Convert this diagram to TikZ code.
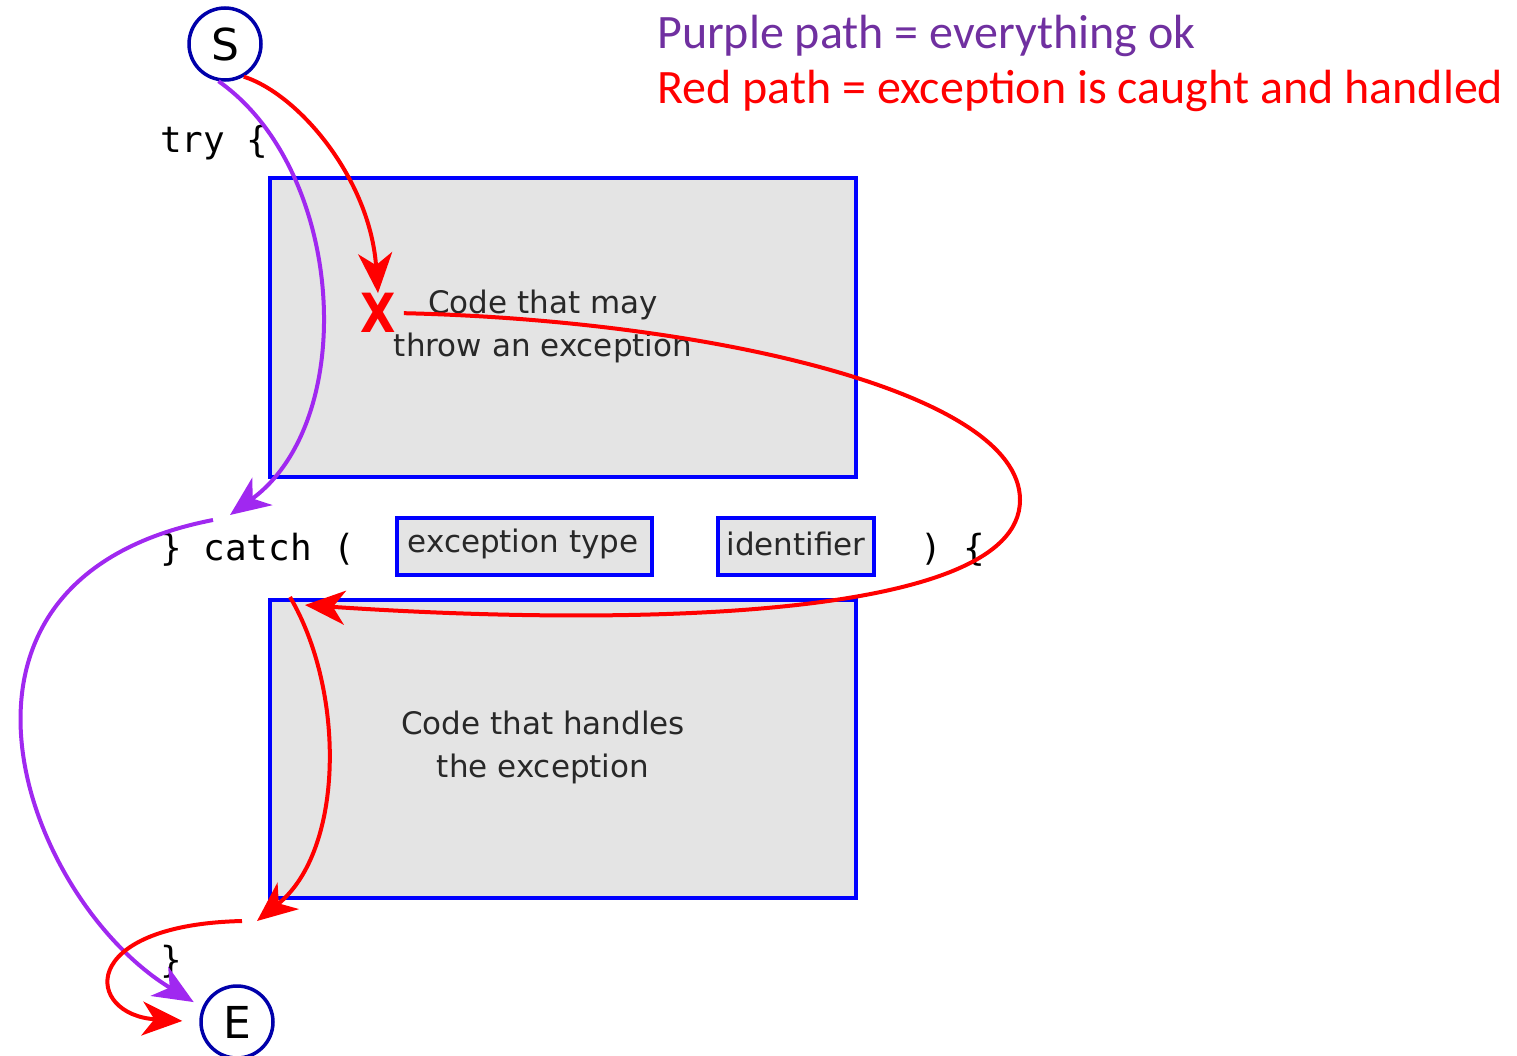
\documentclass[tikz,border=0pt]{standalone}
\usepackage{fontspec}
\usetikzlibrary{arrows.meta}
\newfontfamily\legendfont{Carlito}
\newfontfamily\labelfont{DejaVu Sans}
\newfontfamily\codefont{DejaVu Sans Mono}
\definecolor{okpurple}{RGB}{112,48,160}
\definecolor{okarrow}{RGB}{160,40,240}
\definecolor{ringblue}{RGB}{0,0,170}
\definecolor{boxgray}{RGB}{228,228,228}
\definecolor{labelgray}{RGB}{40,40,40}
\tikzset{
  block/.style={draw=blue, fill=boxgray, line width=3.5pt, inner sep=0pt},
  blocktext/.style={text=labelgray, align=center, inner sep=0pt, font=\labelfont\fontsize{31}{43}\selectfont},
  ring/.style={circle, draw=ringblue, line width=3.5pt, minimum size=72pt, inner sep=0pt, font=\labelfont\fontsize{44}{44}\selectfont},
  codeline/.style={anchor=base west, inner sep=0pt, text=black, font=\codefont\fontsize{36}{36}\selectfont},
  legend/.style={anchor=base west, inner sep=0pt, font=\legendfont\fontsize{48}{48}\selectfont},
  okpath/.style={draw=okarrow, line width=4pt, -{Stealth[length=40pt,width=34pt,inset=12pt]}},
  errpath/.style={draw=red, line width=4pt, -{Stealth[length=40pt,width=34pt,inset=12pt]}}
}
\begin{document}
\begin{tikzpicture}[x=1pt,y=-1pt]
\useasboundingbox (0,0) rectangle (1517,1055);

%Shape: Rectangle [try block]
\node [block, minimum width=586pt, minimum height=299pt] (tryblock) at (563,327.5) {};
%Shape: Rectangle [catch block]
\node [block, minimum width=586pt, minimum height=298pt] (catchblock) at (563,749) {};
%Shape: Rectangle [exception type]
\node [block, minimum width=255pt, minimum height=57pt] (extype) at (524.5,546.5) {};
%Shape: Rectangle [identifier]
\node [block, minimum width=156pt, minimum height=57pt] (ident) at (796,546.5) {};

% Text Node
\node [blocktext] (trytext) at (543,326) {Code that may\\throw an exception};
\node [blocktext] (catchtext) at (543,747) {Code that handles\\the exception};
\node [blocktext] (extypetext) at (523,544) {exception type};
\node [blocktext] (identtext) at (796,544) {identifier};

% Code Text
\node [codeline] (trykw) at (160,152) {try \{};
\node [codeline] (catchkw) at (160,560) {\} catch (};
\node [codeline] (openkw) at (920,560) {) \{};
\node [codeline] (closekw) at (160,972) {\}};

%Shape: Circle [start and end]
\node [ring] (S) at (225,44) {S};
\node [ring] (E) at (237,1022) {E};

% Failure mark
\node [inner sep=0pt, text=red, font=\labelfont\bfseries\fontsize{54}{54}\selectfont] (fail) at (378,313) {\scalebox{0.85}[1]{X}};

% Free ends of the paths
\coordinate (catchin) at (230,515);
\coordinate (catchout) at (213,520);
\coordinate (handlerin) at (305,605);
\coordinate (handlerout) at (290,597);
\coordinate (closein) at (257,921);
\coordinate (closeout) at (242,921);

%Purple path
\draw [okpath] (S.260) .. controls (345,170) and (360,420) .. (catchin);
\draw [okpath, shorten >=10pt] (catchout) .. controls (-95,580) and (25,900) .. (E.157);

%Red path
\draw [errpath] (S.300) .. controls (300,95) and (370,180) .. (fail.north);
\draw [errpath, shorten <=8pt] (fail.east) .. controls (700,320) and (1020,390) .. (1020,500) .. controls (1020,625) and (600,625) .. (handlerin);
\draw [errpath] (handlerout) .. controls (345,690) and (345,850) .. (closein);
\draw [errpath, shorten >=17pt] (closeout) .. controls (75,925) and (85,1015) .. (E.west);

% Legend
\node [legend, text=okpurple] (oklegend) at (657,48) {Purple path = everything ok};
\node [legend, text=red] (errlegend) at (657,103) {Red path = exception is caught and handled};
\end{tikzpicture}
\end{document}
